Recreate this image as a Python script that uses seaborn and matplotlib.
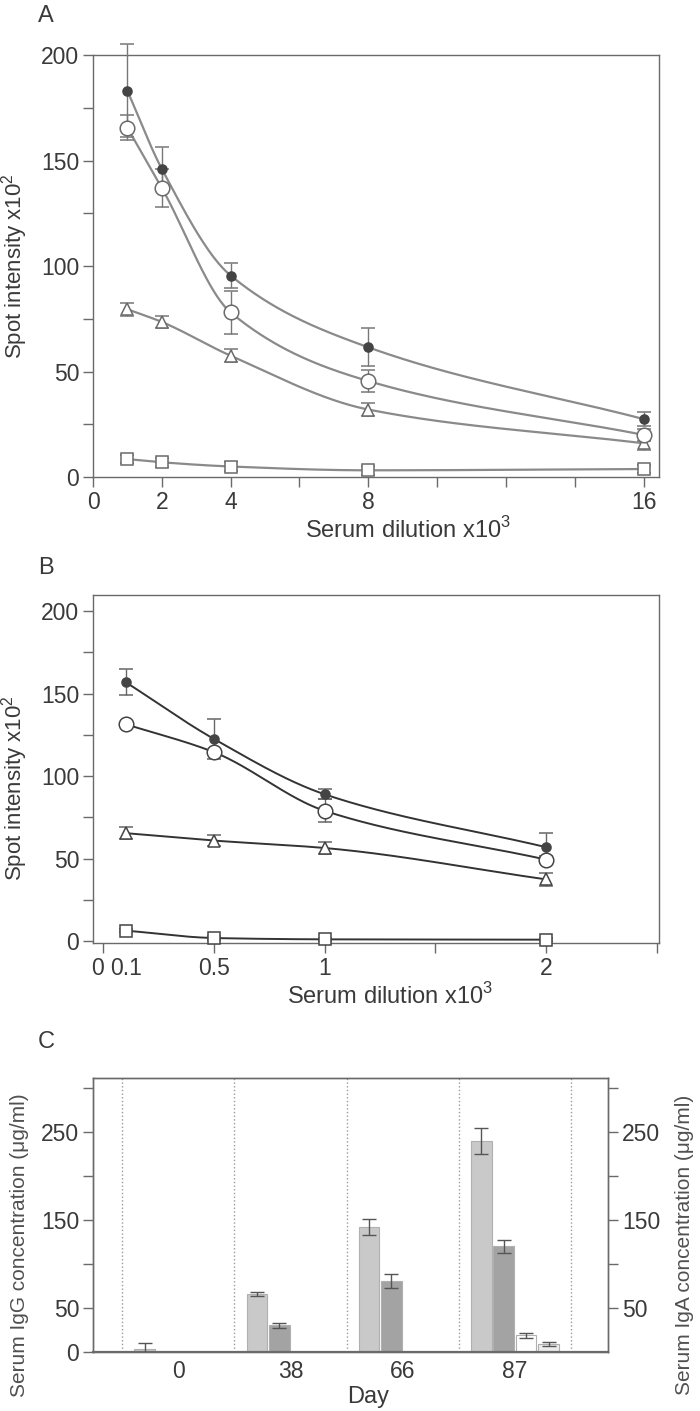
import numpy as np
import pandas as pd
import seaborn as sns
import matplotlib.pyplot as plt

# ---- panel A : serum dilution x10^3 vs spot intensity x10^2
dil_a = [1, 2, 4, 8, 16]
a_filled = [183, 146, 95.5, 61.5, 27.5]
a_filled_err = [22, 10.5, 6, 9, 3.5]
a_open = [165.5, 137, 78, 45.5, 20]
a_open_err = [6, 9, 10, 5, 3]
a_tri = [79.5, 73.5, 57.5, 32, 16]
a_tri_err = [3, 3, 3, 3, 3]
a_sq = [8.5, 7, 5, 3.2, 3.8]
a_sq_err = [2, 2, 2, 2, 2]

# ---- panel B
dil_b = [0.1, 0.5, 1, 2]
b_filled = [157, 122.5, 89, 57]
b_filled_err = [8, 12, 3, 8.5]
b_open = [131.5, 114.5, 79, 49.5]
b_open_err = [1, 1, 7, 2]
b_tri = [65.5, 61, 56.5, 37.5]
b_tri_err = [3.5, 3.5, 3.5, 4]
b_sq = [6.5, 2, 1.2, 1]
b_sq_err = [1, 1, 1, 1]

# ---- panel C : serum Ig concentration per day
days = ['0', '38', '66', '87']
groups = ['IgG 1', 'IgG 2', 'IgA 1', 'IgA 2']
c_g1 = [3, 65.5, 141.5, 239.5]
c_g1_err = [7, 2.3, 9, 15]
c_g2 = [np.nan, 30.3, 80.5, 120]
c_g2_err = [np.nan, 2.7, 7.5, 7.3]
c_a1 = [np.nan, np.nan, np.nan, 18.8]
c_a1_err = [np.nan, np.nan, np.nan, 2.7]
c_a2 = [np.nan, np.nan, np.nan, 9.3]
c_a2_err = [np.nan, np.nan, np.nan, 2.1]

sns.set_theme(style='ticks')
plt.rcParams['font.family'] = ['Liberation Sans', 'DejaVu Sans']
plt.rcParams['mathtext.fontset'] = 'custom'
plt.rcParams['mathtext.rm'] = 'Liberation Sans'

TXT = '#3a3a3a'
SPINE = '#6a6a6a'
TICK_FS = 16.5
LAB_FS = 17


def pchip(x, y, n=300):
    # shape preserving cubic, only used to draw the smooth connecting curve
    x = np.asarray(x, float)
    y = np.asarray(y, float)
    h = np.diff(x)
    delta = np.diff(y) / h
    d = np.zeros_like(y)
    for k in range(1, len(x) - 1):
        if delta[k - 1] * delta[k] <= 0:
            d[k] = 0
        else:
            w1 = 2 * h[k] + h[k - 1]
            w2 = h[k] + 2 * h[k - 1]
            d[k] = (w1 + w2) / (w1 / delta[k - 1] + w2 / delta[k])
    d[0] = delta[0]
    d[-1] = delta[-1]
    xs = np.linspace(x[0], x[-1], n)
    idx = np.clip(np.searchsorted(x, xs) - 1, 0, len(x) - 2)
    t = (xs - x[idx]) / h[idx]
    h00 = 2 * t**3 - 3 * t**2 + 1
    h10 = t**3 - 2 * t**2 + t
    h01 = -2 * t**3 + 3 * t**2
    h11 = t**3 - t**2
    ys = h00 * y[idx] + h10 * h[idx] * d[idx] + h01 * y[idx + 1] + h11 * h[idx] * d[idx + 1]
    return xs, ys


def style_axes(ax):
    for sp in ax.spines.values():
        sp.set_visible(True)
        sp.set_color(SPINE)
        sp.set_linewidth(1.0)
    ax.tick_params(direction='out', length=7, width=1, color=SPINE,
                   labelcolor=TXT, labelsize=TICK_FS, pad=3)


def draw_series(ax, x, y, err, marker, ms, mfc, mec, line_col, ecol, lw):
    xs, ys = pchip(x, y)
    sns.lineplot(x=xs, y=ys, ax=ax, color=line_col, lw=lw, estimator=None,
                 sort=False, zorder=2)
    eb = ax.errorbar(x, y, yerr=err, fmt=marker, ms=ms, mfc=mfc, mec=mec,
                     mew=1.1, ecolor=ecol, elinewidth=1, capsize=5,
                     capthick=1, zorder=3)
    for art in eb.get_children():
        art.set_clip_on(False)


fig = plt.figure(figsize=(7, 14.11), dpi=100)

# ---------------- A
axA = fig.add_axes([0.1329, 0.6619, 0.8086, 0.2991])
la = '#8a8a8a'
draw_series(axA, dil_a, a_sq, a_sq_err, 's', 8.5, 'white', '#6a6a6a', la, '#777777', 1.6)
draw_series(axA, dil_a, a_tri, a_tri_err, '^', 9, 'white', '#6a6a6a', la, '#777777', 1.6)
draw_series(axA, dil_a, a_open, a_open_err, 'o', 10.5, 'white', '#6a6a6a', la, '#777777', 1.6)
draw_series(axA, dil_a, a_filled, a_filled_err, 'o', 6.5, '#444444', '#444444', la, '#777777', 1.6)
axA.set_xlim(0, 16.45)
axA.set_ylim(0, 200)
axA.set_xticks(np.arange(0, 17, 2))
axA.set_xticklabels(['0', '2', '4', '', '8', '', '', '', '16'])
axA.set_yticks(np.arange(0, 201, 25))
axA.set_yticklabels(['0', '', '50', '', '100', '', '150', '', '200'])
style_axes(axA)
axA.set_xlabel('Serum dilution x10$^3$', fontsize=LAB_FS, color=TXT)
axA.set_ylabel('Spot intensity x10$^2$', fontsize=16, color=TXT)
axA.xaxis.set_label_coords(0.557, -0.095)
axA.yaxis.set_label_coords(-0.112, 0.5)

# ---------------- B
axB = fig.add_axes([0.1329, 0.3317, 0.8086, 0.2466])
lb = '#333333'
draw_series(axB, dil_b, b_sq, b_sq_err, 's', 8.5, 'white', '#444444', lb, '#666666', 1.4)
draw_series(axB, dil_b, b_tri, b_tri_err, '^', 9, 'white', '#444444', lb, '#666666', 1.4)
draw_series(axB, dil_b, b_open, b_open_err, 'o', 10.5, 'white', '#444444', lb, '#666666', 1.4)
draw_series(axB, dil_b, b_filled, b_filled_err, 'o', 6.5, '#444444', '#444444', lb, '#666666', 1.4)
axB.set_xlim(-0.047, 2.51)
axB.set_ylim(-1, 209.7)
axB.set_xticks([0, 0.5, 1, 1.5, 2, 2.5])
axB.set_xticklabels(['0', '0.5', '1', '', '2', ''])
axB.set_xticks([0.1], minor=True)
axB.set_xticklabels(['0.1'], minor=True)
axB.set_yticks(np.arange(0, 201, 25))
axB.set_yticklabels(['0', '', '50', '', '100', '', '150', '', '200'])
style_axes(axB)
axB.tick_params(axis='x', which='minor', length=0, labelsize=TICK_FS,
                labelcolor=TXT, pad=10)
axB.get_xticklabels()[0].set_ha('right')
axB.set_xlabel('Serum dilution x10$^3$', fontsize=LAB_FS, color=TXT)
axB.set_ylabel('Spot intensity x10$^2$', fontsize=16, color=TXT)
axB.xaxis.set_label_coords(0.525, -0.115)
axB.yaxis.set_label_coords(-0.112, 0.445)

# ---------------- C
axC = fig.add_axes([0.1329, 0.0418, 0.7357, 0.1942])
vals = [c_g1, c_g2, c_a1, c_a2]
errs = [c_g1_err, c_g2_err, c_a1_err, c_a2_err]
df = pd.DataFrame({
    'day': np.repeat([days], len(groups), axis=0).ravel(),
    'group': np.repeat(groups, len(days)),
    'conc': np.concatenate(vals),
    'err': np.concatenate(errs),
})
df_bars = df.dropna(subset=['conc'])
pal = {'IgG 1': '#c9c9c9', 'IgG 2': '#a3a3a3', 'IgA 1': '#ffffff', 'IgA 2': '#ececec'}
sns.barplot(data=df_bars, x='day', y='conc', hue='group', order=days,
            hue_order=groups, palette=pal, errorbar=None, width=0.8, gap=0.08,
            edgecolor='#b0b0b0', linewidth=0.8, legend=False, ax=axC)
for gi, g in enumerate(groups):
    sub = df[df['group'] == g]
    xpos = np.arange(len(days)) + (gi - 1.5) * 0.2
    axC.errorbar(xpos, sub['conc'], yerr=sub['err'], fmt='none', ecolor='#555555',
                 elinewidth=1, capsize=5, capthick=1, zorder=4)
for b in np.arange(-0.5, len(days), 1.0):
    axC.axvline(b, color='#9a9a9a', ls=':', lw=1, zorder=0)
axC.set_xlim(-0.76, 3.83)
axC.set_ylim(0, 311)
axC.set_yticks(np.arange(0, 301, 50))
axC.set_yticklabels(['0', '50', '', '150', '', '250', ''])
style_axes(axC)
axC.spines['bottom'].set_linewidth(1.6)
axC.tick_params(axis='x', length=0, pad=6)
axC.set_xlabel('Day', fontsize=LAB_FS, color=TXT)
axC.set_ylabel('Serum IgG concentration (\u03bcg/ml)', fontsize=15, color='#505050')
axC.xaxis.set_label_coords(0.534, -0.125)
axC.yaxis.set_label_coords(-0.125, 0.39)

axC2 = axC.twinx()
axC2.set_ylim(axC.get_ylim())
axC2.set_yticks(np.arange(50, 301, 50))
axC2.set_yticklabels(['50', '', '150', '', '250', ''])
style_axes(axC2)
axC2.set_ylabel('Serum IgA concentration (\u03bcg/ml)', fontsize=15, color='#505050',
                rotation=90)
axC2.yaxis.set_label_coords(1.13, 0.39)

# panel letters
for lab, ytop in [('A', 5), ('B', 557), ('C', 1031)]:
    fig.text(38 / 700, 1 - ytop / 1411, lab, ha='left', va='top', fontsize=17, color=TXT)

fig.savefig('out.png', dpi=100)
